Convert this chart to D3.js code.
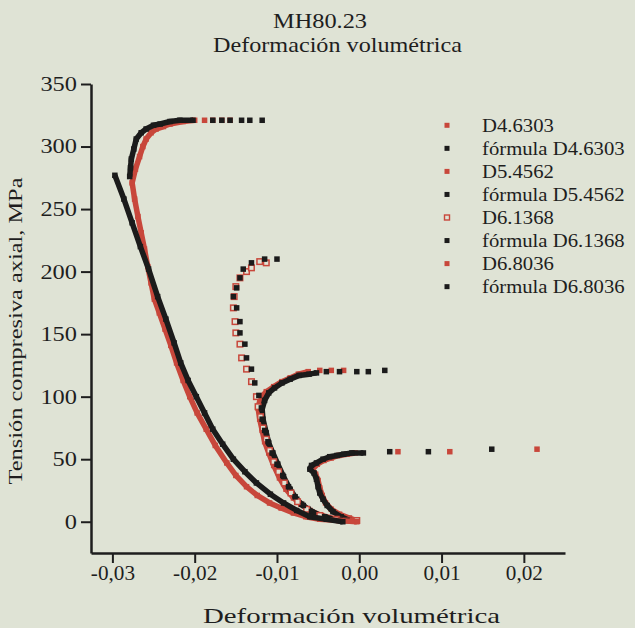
<!DOCTYPE html>
<html lang="es">
<head>
<meta charset="UTF-8">
<title>MH80.23 - Deformación volumétrica</title>
<script src="https://d3js.org/d3.v7.min.js"></script>
<style>
  body { margin: 0; background: #dfe3d5; }
  svg { display: block; }
  text { fill: #1e1e1e; font-family: 'Liberation Serif', 'Times New Roman', serif; }
  .axis path, .axis line { stroke: #1e1e1e; }
</style>
</head>
<body>
<script>
// [deformación volumétrica, tensión MPa]

// D4.6303 (peak ~55 MPa)
var expD46303Band = [[-0.0003,1],[-0.0012,3],[-0.0024,6],[-0.0034,10],[-0.0041,15],[-0.0045,21],[-0.0048,27],[-0.0050,33],[-0.0053,38],[-0.0057,42],[-0.0051,46],[-0.0043,49],[-0.0034,51],[-0.0025,53],[-0.0015,54],[-0.0005,55]];
var expD46303Dots = [[0.0047,56],[0.0110,56],[0.0216,58]];
var fmlD46303Band = [[-0.0012,1],[-0.0022,4],[-0.0032,8],[-0.0039,13],[-0.0044,18],[-0.0048,23],[-0.0050,28],[-0.0052,34],[-0.0055,39],[-0.0060,42],[-0.0058,45],[-0.0052,47],[-0.0044,50],[-0.0036,52],[-0.0027,53],[-0.0019,54],[-0.0009,55],[0.0005,55]];
var fmlD46303Dots = [[0.0037,56],[0.0084,56],[0.0161,58]];

// D5.4562 (peak ~120 MPa)
var expD54562Band = [[-0.0008,1],[-0.0028,2],[-0.0046,5],[-0.0060,9],[-0.0071,14],[-0.0080,19],[-0.0089,26],[-0.0097,35],[-0.0104,45],[-0.0110,55],[-0.0115,64],[-0.0118,73],[-0.0121,82],[-0.0123,91],[-0.0120,99],[-0.0113,104],[-0.0104,108],[-0.0094,112],[-0.0084,115],[-0.0074,118],[-0.0062,120]];
var expD54562Dots = [[-0.0048,121],[-0.0034,121],[-0.0019,121]];
var fmlD54562Band = [[-0.0015,1],[-0.0032,2],[-0.0048,5],[-0.0062,10],[-0.0070,14],[-0.0076,18],[-0.0084,26],[-0.0092,36],[-0.0099,46],[-0.0105,55],[-0.0110,63],[-0.0113,71],[-0.0117,82],[-0.0118,90],[-0.0115,97],[-0.0110,103],[-0.0103,107],[-0.0094,111],[-0.0084,114],[-0.0073,117],[-0.0061,118],[-0.0052,119]];
var fmlD54562Dots = [[-0.0040,120],[-0.0024,120],[-0.0003,120],[0.0011,120],[0.0031,121]];

// D6.1368 (peak ~210 MPa), measured points drawn hollow
var expD61368Dots = [[-0.0003,1],[-0.0028,2],[-0.0048,5],[-0.0064,10],[-0.0075,16],[-0.0083,23],[-0.0091,31],[-0.0098,40],[-0.0104,48],[-0.0109,57],[-0.0113,66],[-0.0117,75],[-0.0120,84],[-0.0123,92],[-0.0125,100],[-0.0131,112],[-0.0137,122],[-0.0143,131],[-0.0145,142],[-0.0150,151],[-0.0151,160],[-0.0153,171],[-0.0152,180],[-0.0150,188],[-0.0145,195],[-0.0137,200],[-0.0131,203],[-0.0121,208],[-0.0113,207]];
var fmlD61368Dots = [[-0.0023,1],[-0.0042,4],[-0.0058,8],[-0.0068,13],[-0.0078,20],[-0.0086,28],[-0.0093,37],[-0.0100,46],[-0.0106,55],[-0.0111,64],[-0.0115,73],[-0.0118,82],[-0.0119,91],[-0.0122,101],[-0.0127,111],[-0.0131,122],[-0.0137,131],[-0.0139,142],[-0.0145,151],[-0.0145,160],[-0.0149,171],[-0.0153,180],[-0.0149,187],[-0.0145,195],[-0.0141,202],[-0.0131,207],[-0.0115,210],[-0.0100,210]];

// D6.8036 (peak ~320 MPa)
var expD68036Band = [[-0.0003,0],[-0.0025,1],[-0.0048,2],[-0.0065,4],[-0.0080,7],[-0.0095,11],[-0.0109,15],[-0.0124,21],[-0.0137,28],[-0.0150,37],[-0.0161,47],[-0.0175,61],[-0.0186,74],[-0.0197,87],[-0.0206,100],[-0.0214,113],[-0.0222,127],[-0.0229,141],[-0.0236,154],[-0.0243,167],[-0.0249,178],[-0.0253,191],[-0.0257,204],[-0.0261,218],[-0.0265,231],[-0.0269,244],[-0.0273,258],[-0.0276,271],[-0.0272,282],[-0.0267,292],[-0.0263,300],[-0.0259,306],[-0.0253,311],[-0.0247,314],[-0.0238,316],[-0.0230,318],[-0.0214,320],[-0.0200,321]];
var expD68036Dots = [[-0.0188,321],[-0.0178,321],[-0.0167,321],[-0.0157,321]];
var fmlD68036Band = [[-0.0020,0],[-0.0040,2],[-0.0060,4],[-0.0076,9],[-0.0092,15],[-0.0108,22],[-0.0125,31],[-0.0139,40],[-0.0153,50],[-0.0166,62],[-0.0178,74],[-0.0188,87],[-0.0198,100],[-0.0208,113],[-0.0217,127],[-0.0225,143],[-0.0235,162],[-0.0245,180],[-0.0256,202],[-0.0266,220],[-0.0276,239],[-0.0286,258],[-0.0297,277]];
var fmlD68036Band2 = [[-0.0279,276],[-0.0278,283],[-0.0277,290],[-0.0274,298],[-0.0271,306],[-0.0265,311],[-0.0259,314],[-0.0250,317],[-0.0242,318],[-0.0230,320],[-0.0218,321],[-0.0202,321]];
var fmlD68036Dots = [[-0.0178,321],[-0.0167,321],[-0.0157,321],[-0.0143,321],[-0.0133,321],[-0.0118,321]];

var titleLines = ["MH80.23", "Deformación volumétrica"];
var xLabel = "Deformación volumétrica";
var yLabel = "Tensión compresiva axial, MPa";
var xMajor = [-0.03, -0.02, -0.01, 0.00, 0.01, 0.02];
var xMinor = [-0.025, -0.015, -0.005, 0.005, 0.015, 0.025];
var yMajor = [0, 50, 100, 150, 200, 250, 300, 350];
var yMinor = [25, 75, 125, 175, 225, 275, 325];

var red = "#c8473b", black = "#1b1b1b", bg = "#dfe3d5";

var series = [
  {label: "D4.6303", color: red, bands: [expD46303Band], dots: expD46303Dots},
  {label: "fórmula D4.6303", color: black, bands: [fmlD46303Band], dots: fmlD46303Dots},
  {label: "D5.4562", color: red, bands: [expD54562Band], dots: expD54562Dots},
  {label: "fórmula D5.4562", color: black, bands: [fmlD54562Band], dots: fmlD54562Dots},
  {label: "D6.1368", color: red, hollow: true, bands: [], dots: expD61368Dots},
  {label: "fórmula D6.1368", color: black, bands: [], dots: fmlD61368Dots},
  {label: "D6.8036", color: red, bands: [expD68036Band], dots: expD68036Dots},
  {label: "fórmula D6.8036", color: black, bands: [fmlD68036Band, fmlD68036Band2], dots: fmlD68036Dots}
];

var svg = d3.select("body").append("svg")
    .attr("width", 635)
    .attr("height", 628);

var x = d3.scaleLinear().domain([-0.0326, 0.025]).range([91, 565]);
var y = d3.scaleLinear().domain([-25, 350]).range([553, 84]);

var fmt = d3.formatLocale({decimal: ",", thousands: ".", grouping: [3], currency: ["", ""], minus: "-"}).format(".2f");

// stretch texts a bit, the scanned font runs wide
function widen(sel, k) {
    sel.each(function() {
        var len = this.getComputedTextLength();
        d3.select(this).attr("textLength", len * k).attr("lengthAdjust", "spacingAndGlyphs");
    });
}

// axes
var gx = svg.append("g").attr("class", "axis")
    .attr("transform", "translate(0," + y(-25) + ")");
gx.call(d3.axisBottom(x).tickValues(xMinor).tickSize(5).tickSizeOuter(0).tickFormat(""));
gx.call(d3.axisBottom(x).tickValues(xMajor).tickSize(10).tickSizeOuter(0).tickPadding(3).tickFormat(fmt));
gx.selectAll("text").attr("font-size", 20).attr("font-family", null);
widen(gx.selectAll("text"), 1.06);

var gy = svg.append("g").attr("class", "axis")
    .attr("transform", "translate(" + x(-0.0326) + ",0)");
gy.call(d3.axisLeft(y).tickValues(yMinor).tickSize(5).tickSizeOuter(0).tickFormat(""));
gy.call(d3.axisLeft(y).tickValues(yMajor).tickSize(10).tickSizeOuter(0).tickPadding(4));
gy.selectAll("text").attr("font-size", 20).attr("font-family", null);
widen(gy.selectAll("text"), 1.22);

svg.selectAll(".axis path").attr("stroke-width", 2.5);
svg.selectAll(".axis line").attr("stroke-width", 2);

// series
var size = 5.5;
var line = d3.line().x(function(d) { return x(d[0]); }).y(function(d) { return y(d[1]); });

series.forEach(function(s) {
    var g = svg.append("g");
    s.bands.forEach(function(b) {
        g.append("path")
            .attr("d", line(b))
            .attr("fill", "none")
            .attr("stroke", s.color)
            .attr("stroke-width", size)
            .attr("stroke-linejoin", "round");
    });
    var pts = [].concat.apply([], s.bands).concat(s.dots);
    g.selectAll("rect").data(pts).enter().append("rect")
        .attr("x", function(d) { return x(d[0]) - size / 2; })
        .attr("y", function(d) { return y(d[1]) - size / 2; })
        .attr("width", size)
        .attr("height", size)
        .attr("fill", s.hollow ? bg : s.color)
        .attr("stroke", s.hollow ? s.color : "none")
        .attr("stroke-width", s.hollow ? 1.5 : 0);
});

// legend
var leg = svg.append("g");
series.forEach(function(s, i) {
    var cy = 125.3 + i * 23.05;
    leg.append("rect")
        .attr("x", 447 - 2.5).attr("y", cy - 2.5)
        .attr("width", 5).attr("height", 5)
        .attr("fill", s.hollow ? bg : s.color)
        .attr("stroke", s.hollow ? s.color : "none")
        .attr("stroke-width", 1.4);
    leg.append("text")
        .attr("x", 482).attr("y", cy + 6.5)
        .attr("font-size", 19)
        .text(s.label);
});
widen(leg.selectAll("text"), 1.09);

// titles and axis labels
svg.append("text").attr("x", 273).attr("y", 28).attr("font-size", 21)
    .attr("textLength", 94).attr("lengthAdjust", "spacingAndGlyphs").text(titleLines[0]);
svg.append("text").attr("x", 213).attr("y", 52).attr("font-size", 21)
    .attr("textLength", 249).attr("lengthAdjust", "spacingAndGlyphs").text(titleLines[1]);
svg.append("text").attr("x", 203).attr("y", 623).attr("font-size", 21)
    .attr("textLength", 297).attr("lengthAdjust", "spacingAndGlyphs").text(xLabel);
svg.append("text")
    .attr("transform", "translate(22,331) rotate(-90)")
    .attr("text-anchor", "middle")
    .attr("font-size", 19)
    .attr("textLength", 307).attr("lengthAdjust", "spacingAndGlyphs")
    .text(yLabel);
</script>
</body>
</html>
